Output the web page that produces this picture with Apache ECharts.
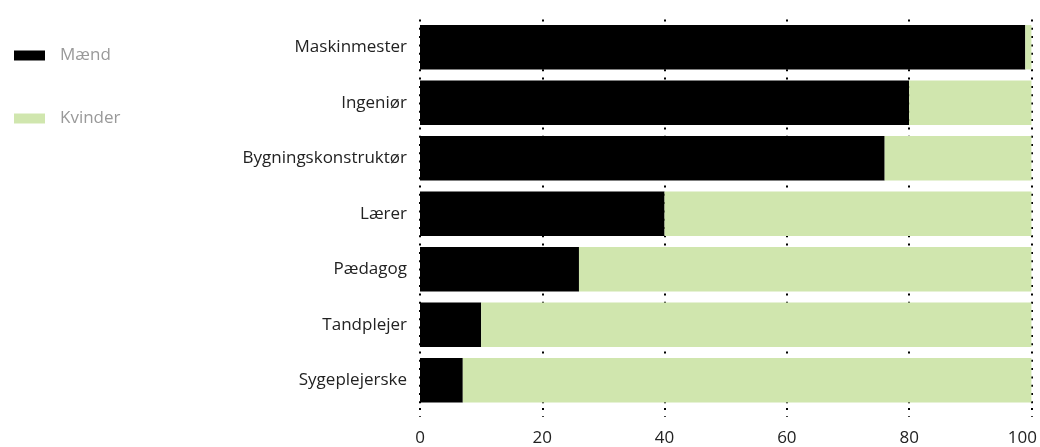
<!DOCTYPE html>
<html>
<head>
<meta charset="utf-8">
<script src="https://cdn.jsdelivr.net/npm/echarts@6/dist/echarts.min.js"></script>
<style>html,body{margin:0;padding:0;background:#fff}#c{width:1040px;height:447px}</style>
</head>
<body>
<div id="c"></div>
<script>
const categories = ['Maskinmester','Ingeniør','Bygningskonstruktør','Lærer','Pædagog','Tandplejer','Sygeplejerske'];
const maend = [99, 80, 76, 40, 26, 10, 7];
const kvinder = [1, 20, 24, 60, 74, 90, 93];
const xTicks = [0, 20, 40, 60, 80, 100];

const chart = echarts.init(document.getElementById('c'), null, {renderer: 'canvas'});
const font = '"Open Sans", "Noto Sans", sans-serif';
chart.setOption({
  animation: false,
  textStyle: {fontFamily: font},
  legend: {
    orient: 'vertical',
    left: 14,
    top: 47,
    padding: 0,
    itemWidth: 31,
    itemHeight: 10,
    itemGap: 46,
    icon: 'rect',
    textStyle: {color: '#999999', fontSize: 17, fontFamily: font, padding: [0, 0, 0, 10]},
    data: ['Mænd', 'Kvinder']
  },
  grid: {left: 420, right: 8, top: 19.5, bottom: 37, containLabel: false},
  xAxis: {
    type: 'value',
    min: xTicks[0],
    max: xTicks[xTicks.length - 1],
    interval: 20,
    axisLine: {show: false},
    axisTick: {show: true, length: 9, lineStyle: {color: '#000', width: 2, type: [2, 6.3]}},
    splitLine: {show: true, lineStyle: {color: '#000', width: 2, type: [2, 6.3]}},
    axisLabel: {
      color: '#222', fontSize: 17, margin: 22, fontFamily: font,
      formatter: function (v) { return v === 100 ? '{r|100}' : String(v); },
      rich: {r: {color: '#222', fontSize: 17, fontFamily: font, padding: [0, 18, 0, 0]}}
    }
  },
  yAxis: {
    type: 'category',
    inverse: true,
    data: categories,
    axisLine: {show: false},
    axisTick: {show: false},
    axisLabel: {color: '#222', fontSize: 17, margin: 13, fontFamily: font}
  },
  series: [
    {name: 'Mænd', type: 'bar', stack: 'a', data: maend, barWidth: '80%', itemStyle: {color: '#000000'}},
    {name: 'Kvinder', type: 'bar', stack: 'a', data: kvinder, barWidth: '80%', itemStyle: {color: '#d0e6ae'}}
  ]
});
</script>
</body>
</html>
